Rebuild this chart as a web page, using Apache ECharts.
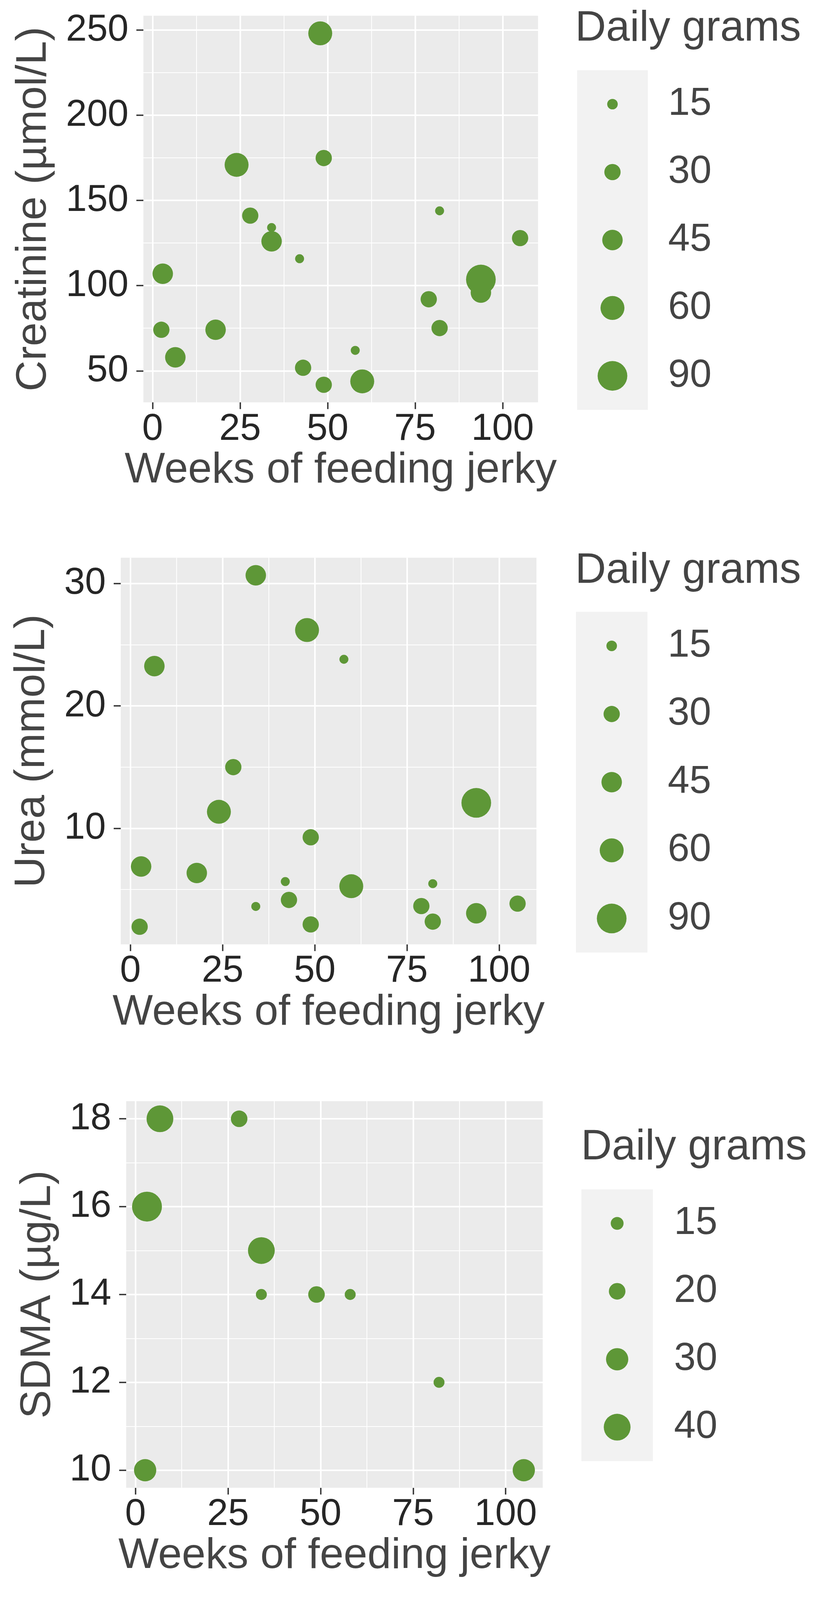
<!DOCTYPE html>
<html>
<head>
<meta charset="utf-8">
<script src="https://cdn.jsdelivr.net/npm/echarts@6/dist/echarts.min.js"></script>
<style>
  html, body { margin: 0; padding: 0; background: #fff; overflow: hidden; }
  #chart { width: 100vw; height: 100vh; }
</style>
</head>
<body>
<div id="chart"></div>
<script>
// creatinine / urea were measured on the same 21 visits
var weeks = [47.9, 24.0, 48.9, 27.9, 34.0, 34.0, 42.0, 82.0, 105.0, 2.9, 93.8,
             93.8, 78.9, 82.0, 2.5, 18.0, 6.5, 57.9, 43.0, 48.9, 59.9];
var creatinine = [248.1, 170.9, 174.9, 141.1, 134.1, 126.0, 115.8, 143.9, 127.9, 107.0, 103.6,
                  95.9, 92.0, 75.1, 74.1, 74.1, 57.9, 62.0, 51.8, 41.8, 43.8];
var urea = [26.2, 11.35, 9.27, 15.0, 3.62, 30.67, 5.65, 5.48, 3.85, 6.88, 12.08,
            3.06, 3.65, 2.38, 1.96, 6.35, 23.25, 23.81, 4.15, 2.15, 5.27];
var grams = [60, 60, 30, 30, 12, 45, 12, 12, 30, 45, 90,
             45, 30, 30, 30, 45, 45, 12, 30, 30, 60];

// SDMA only on 10 visits
var sdmaWeeks = [6.6, 28.0, 3.1, 34.0, 34.0, 48.9, 58.0, 82.0, 2.6, 104.9];
var sdma = [18, 18, 16, 15, 14, 14, 14, 12, 10, 10];
var sdmaGrams = [40, 20, 48, 40, 13, 20, 13, 13, 30, 30];

// legend breaks
var gramBreaks = [15, 30, 45, 60, 90];
var sdmaGramBreaks = [15, 20, 30, 40];

// tick labels
var weekTicks = [0, 25, 50, 75, 100];
var weekMinor = [12.5, 37.5, 62.5, 87.5];
var creatTicks = [50, 100, 150, 200, 250];
var creatMinor = [75, 125, 175, 225];
var ureaTicks = [10, 20, 30];
var ureaMinor = [5, 15, 25];
var sdmaTicks = [10, 12, 14, 16, 18];
var sdmaMinor = [11, 13, 15, 17];

var green = '#5e9737';
var font = '"Liberation Sans", Arial, sans-serif';

// the page may be shorter than the 2114x4263 design, so scale the layout to it
var el = document.getElementById('chart');
var sx = (el.clientWidth || 2114) / 2114;
var sy = (el.clientHeight || 4263) / 4263;
function X(v) { return v * sx; }
function Y(v) { return v * sy; }
var fs = sy;

// same 5% padding as ggplot
function padded(arr) {
  var lo = Math.min.apply(null, arr), hi = Math.max.apply(null, arr);
  var pad = (hi - lo) * 0.05;
  return [lo - pad, hi + pad];
}

// dot diameter from daily grams, fitted to the legend keys
function dotMain(g) { return Math.sqrt(72.8 * g - 303) * fs; }
function dotSdma(g) { return Math.sqrt(156.9 * g - 1188) * fs; }

function gridLines(xMajor, xMinor, yMajor, yMinor) {
  var out = [];
  xMinor.forEach(function (v) { out.push({ xAxis: v, lineStyle: { width: 2 } }); });
  yMinor.forEach(function (v) { out.push({ yAxis: v, lineStyle: { width: 2 } }); });
  xMajor.forEach(function (v) { out.push({ xAxis: v, lineStyle: { width: 4 } }); });
  yMajor.forEach(function (v) { out.push({ yAxis: v, lineStyle: { width: 4 } }); });
  return out;
}

function box(l, t, w, h) {
  return { left: X(l), top: Y(t), width: X(w), height: Y(h) };
}

var panels = [
  { xs: weeks, ys: creatinine, gs: grams, yTicks: creatTicks, yMinor: creatMinor,
    yName: 'Creatinine (µmol/L)', yGap: 225, size: dotMain, breaks: gramBreaks,
    plot: box(367, 42, 1010, 1030), key: box(1477, 187, 181, 905),
    head: [1472, 20], labelGap: 52 },
  { xs: weeks, ys: urea, gs: grams, yTicks: ureaTicks, yMinor: ureaMinor,
    yName: 'Urea (mmol/L)', yGap: 171, size: dotMain, breaks: gramBreaks,
    plot: box(309, 1486, 1064, 1030), key: box(1474, 1630, 183, 908),
    head: [1472, 1464], labelGap: 52 },
  { xs: sdmaWeeks, ys: sdma, gs: sdmaGrams, yTicks: sdmaTicks, yMinor: sdmaMinor,
    yName: 'SDMA (µg/L)', yGap: 170, size: dotSdma, breaks: sdmaGramBreaks,
    plot: box(323, 2934, 1066, 1030), key: box(1488, 3169, 183, 724),
    head: [1487, 3001], labelGap: 54 }
];

var titleStyle = { fontSize: 114 * fs, lineHeight: 114 * fs, color: '#444', fontFamily: font, fontWeight: 'normal' };

var option = {
  animation: false,
  backgroundColor: '#fff',
  title: [], grid: [], xAxis: [], yAxis: [], series: []
};

panels.forEach(function (p, i) {
  var xr = padded(p.xs), yr = padded(p.ys);
  var gPlot = 2 * i, gKey = 2 * i + 1;

  option.title.push({
    text: 'Daily grams', left: X(p.head[0]), top: Y(p.head[1]), padding: 0,
    textStyle: titleStyle
  });

  option.grid.push(Object.assign({ show: true, backgroundColor: '#ebebeb', borderWidth: 0 }, p.plot));
  option.grid.push(Object.assign({ show: true, backgroundColor: '#f2f2f2', borderWidth: 0 }, p.key));

  option.xAxis.push({
    type: 'value', gridIndex: gPlot, min: xr[0], max: xr[1],
    name: 'Weeks of feeding jerky', nameLocation: 'middle', nameGap: Y(125),
    nameTextStyle: titleStyle,
    axisLine: { show: false, onZero: false },
    axisTick: { show: true, length: Y(18), customValues: weekTicks, lineStyle: { color: '#333', width: 3.5 } },
    axisLabel: { customValues: weekTicks, fontSize: 100 * fs, color: '#262626', margin: Y(22), fontFamily: font },
    splitLine: { show: false }
  });
  option.xAxis.push({ type: 'value', gridIndex: gKey, min: 0, max: 1, show: false });

  option.yAxis.push({
    type: 'value', gridIndex: gPlot, min: yr[0], max: yr[1],
    name: p.yName, nameLocation: 'middle', nameGap: X(p.yGap),
    nameTextStyle: titleStyle,
    axisLine: { show: false, onZero: false },
    axisTick: { show: true, length: X(18), customValues: p.yTicks, lineStyle: { color: '#333', width: 3.5 } },
    axisLabel: { customValues: p.yTicks, fontSize: 100 * fs, color: '#262626', margin: X(38), fontFamily: font },
    splitLine: { show: false }
  });
  option.yAxis.push({
    type: 'category', gridIndex: gKey, inverse: true, position: 'right',
    data: p.breaks.map(String),
    axisLine: { show: false }, axisTick: { show: false }, splitLine: { show: false },
    axisLabel: { fontSize: 104 * fs, color: '#444', margin: X(p.labelGap), fontFamily: font }
  });

  option.series.push({
    type: 'scatter', xAxisIndex: gPlot, yAxisIndex: gPlot, z: 3,
    data: p.xs.map(function (x, k) { return [x, p.ys[k], p.gs[k]]; }),
    symbolSize: function (v) { return p.size(v[2]); },
    itemStyle: { color: green, opacity: 1 },
    markLine: {
      silent: true, z: 1, symbol: ['none', 'none'], label: { show: false },
      lineStyle: { color: '#fff', type: 'solid' },
      data: gridLines(weekTicks, weekMinor, p.yTicks, p.yMinor)
    }
  });
  option.series.push({
    type: 'scatter', xAxisIndex: gKey, yAxisIndex: gKey, z: 3,
    data: p.breaks.map(function (b) { return [0.5, String(b), b]; }),
    symbolSize: function (v) { return p.size(v[2]); },
    itemStyle: { color: green, opacity: 1 }
  });
});

var chart = echarts.init(el);
chart.setOption(option);
</script>
</body>
</html>
